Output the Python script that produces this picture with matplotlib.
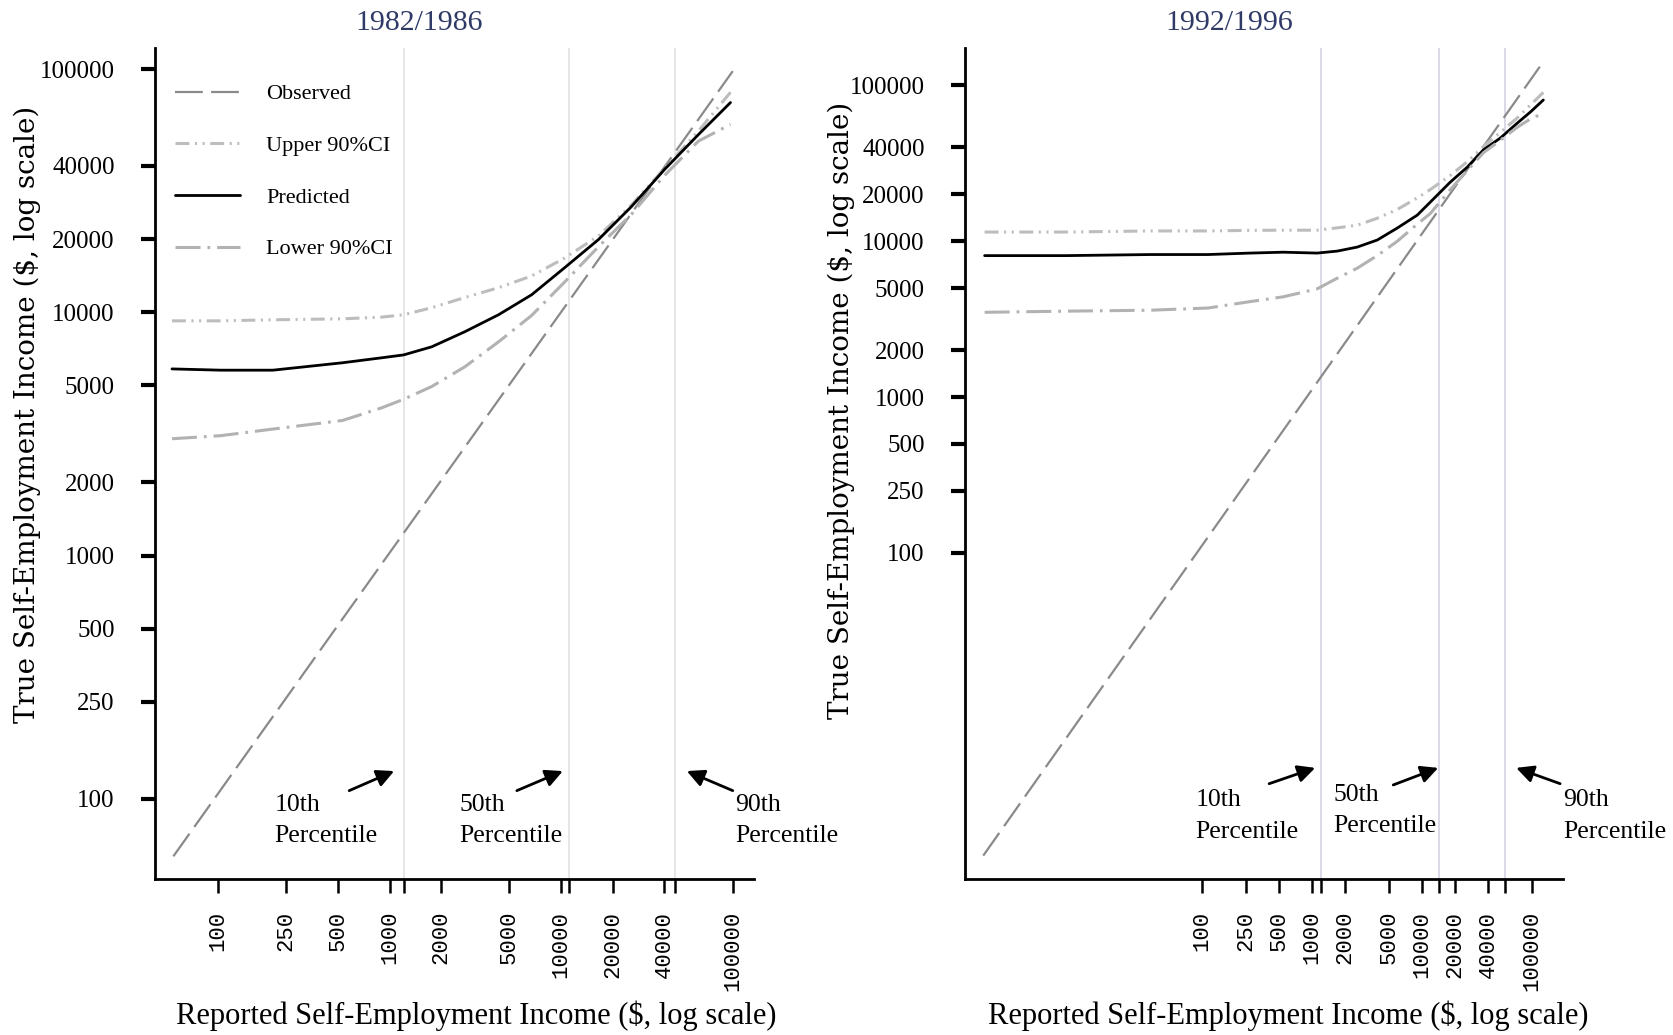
import matplotlib
matplotlib.use("Agg")
import matplotlib.pyplot as plt
from matplotlib.ticker import NullFormatter, NullLocator, FixedLocator

plt.rcParams["lines.scale_dashes"] = False
plt.rcParams["lines.solid_capstyle"] = "round"

# ---------------- data ----------------
panel_titles = ["1982/1986", "1992/1996"]
series_labels = ["Observed", "Upper 90%CI", "Predicted", "Lower 90%CI"]
tick_values = [100, 250, 500, 1000, 2000, 5000, 10000, 20000, 40000, 100000]
tick_labels = ["100", "250", "500", "1000", "2000", "5000", "10000", "20000", "40000", "100000"]
pct_labels = ["10th\nPercentile", "50th\nPercentile", "90th\nPercentile"]

# 1982/1986 panel
obs82_x = [55, 100000]
obs82_y = [58, 98000]
rep82 = [54, 104, 209, 532, 902, 1210, 1760, 2740, 4320, 6730, 10470, 16500, 25700, 40000, 63000, 97000]
pred82 = [5850, 5780, 5780, 6200, 6500, 6680, 7210, 8310, 9770, 11800, 15240, 19900, 27200, 38600, 53700, 72800]
upper82 = [9220, 9220, 9310, 9400, 9550, 9770, 10440, 11490, 12620, 14100, 16700, 20600, 27600, 39000, 55500, 80200]
lower82 = [3020, 3110, 3310, 3590, 4050, 4390, 4950, 5960, 7560, 9700, 13300, 18600, 25300, 36500, 50500, 59200]
pct82 = [1210, 11150, 46000]

# 1992/1996 panel
obs92_x = [1.04, 117000]
obs92_y = [1.14, 132000]
rep92 = [1.07, 5.8, 34, 114, 275, 548, 1117, 1700, 2580, 3920, 5950, 9050, 11890, 18070, 25800, 36000, 51300, 73200, 96200, 126000]
pred92 = [8090, 8090, 8220, 8220, 8400, 8510, 8400, 8650, 9180, 10190, 12160, 14730, 17860, 24020, 30000, 38600, 46000, 57400, 67600, 80700]
upper92 = [11460, 11460, 11650, 11650, 11750, 11780, 11780, 12200, 12680, 14060, 16000, 19000, 21500, 26500, 32500, 40500, 50000, 62000, 75000, 90300]
lower92 = [3500, 3560, 3610, 3730, 4100, 4400, 4950, 5800, 6720, 8100, 10000, 12900, 15100, 21500, 28500, 37000, 44500, 54000, 61000, 66400]
pct92 = [1200, 14300, 56000]

# ---------------- styling ----------------
SERIF = ["Liberation Serif", "DejaVu Serif"]
obs_style = dict(color="#8a8a8a", lw=1.6, dashes=(20, 6))
up_style = dict(color="#bdbdbd", lw=2.2, dashes=(10, 4, 1.5, 4, 1.5, 4))
pred_style = dict(color="black", lw=2.0)
low_style = dict(color="#b2b2b2", lw=2.2, dashes=(18, 5, 2, 5))

fig = plt.figure(figsize=(16.73, 10.35), dpi=100)
W, H = 1673, 1035
ax1 = fig.add_axes([155 / W, 1 - 879 / H, 599 / W, 831 / H])
ax2 = fig.add_axes([965 / W, 1 - 879 / H, 598 / W, 831 / H])

panels = [
    (ax1, obs82_x, obs82_y, rep82, pred82, upper82, lower82, pct82, (43, 133000), (46.8, 122000), "#e4e4e4"),
    (ax2, obs92_x, obs92_y, rep92, pred92, upper92, lower92, pct92, (0.71, 190000), (0.807, 174000), "#d6d6e6"),
]

for ax, ox, oy, rx, pr, up, lo, pc, xl, yl, vcol in panels:
    ax.set_xscale("log")
    ax.set_yscale("log")
    for p in pc:
        ax.axvline(p, color=vcol, lw=1.3, zorder=0)
    ax.plot(ox, oy, label=series_labels[0], **obs_style)
    ax.plot(rx, up, label=series_labels[1], **up_style)
    ax.plot(rx, pr, label=series_labels[2], **pred_style)
    ax.plot(rx, lo, label=series_labels[3], **low_style)
    ax.set_xlim(*xl)
    ax.set_ylim(*yl)
    for s in ["top", "right"]:
        ax.spines[s].set_visible(False)
    for s in ["left", "bottom"]:
        ax.spines[s].set_linewidth(2)
    ax.xaxis.set_major_locator(FixedLocator(tick_values))
    ax.xaxis.set_minor_locator(FixedLocator(pc))
    ax.xaxis.set_minor_formatter(NullFormatter())
    ax.set_xticklabels(tick_labels, rotation=90, family="Liberation Mono", fontsize=16)
    ax.yaxis.set_major_locator(FixedLocator(tick_values))
    ax.yaxis.set_minor_locator(NullLocator())
    ax.set_yticklabels(tick_labels, family=SERIF, fontsize=18)
    ax.tick_params(axis="x", which="both", direction="out", length=10, width=1.8, pad=13)
    ax.tick_params(axis="y", which="both", direction="out", length=10, width=3, pad=19)

# legend (left panel only)
ax1.legend(loc="upper left", bbox_to_anchor=(0.034, 0.957), frameon=False,
           prop={"family": SERIF, "size": 16}, handlelength=2.9,
           handletextpad=1.2, labelspacing=1.4, borderaxespad=0, borderpad=0)

# percentile annotations
arrow = dict(arrowstyle="-|>", lw=2, color="black", mutation_scale=26, shrinkA=0, shrinkB=0)
ann82 = [((214, 105), (582, 108), (1064, 130)),
         ((2550, 105), (5520, 108), (10230, 130)),
         ((103000, 105), (100000, 108), (54000, 130))]
ann92 = [((87.5, 3.04), (409, 3.30), (1070, 4.17)),
         ((1563, 3.30), (5470, 3.24), (14000, 4.17)),
         ((190000, 3.04), (179000, 3.30), (71400, 4.17))]
for ax, anns in [(ax1, ann82), (ax2, ann92)]:
    for lab, (tpos, tail, tip) in zip(pct_labels, anns):
        ax.text(tpos[0], tpos[1], lab, ha="left", va="top", family=SERIF, fontsize=18.5,
                linespacing=1.55, clip_on=False)
        ax.annotate("", xy=tip, xytext=tail, arrowprops=arrow, annotation_clip=False)

# titles and axis labels
fig.text(419 / W, 1 - 23 / H, panel_titles[0], ha="center", va="center",
         family=SERIF, fontsize=21.5, color="#2f3a66")
fig.text(1229 / W, 1 - 23 / H, panel_titles[1], ha="center", va="center",
         family=SERIF, fontsize=21.5, color="#2f3a66")
ylab = "True Self-Employment Income ($, log scale)"
xlab = "Reported Self-Employment Income ($, log scale)"
fig.text(27 / W, 1 - 414 / H, ylab, rotation=90, ha="center", va="center",
         family=["DejaVu Serif"], fontsize=20)
fig.text(841 / W, 1 - 410 / H, ylab, rotation=90, ha="center", va="center",
         family=["DejaVu Serif"], fontsize=20)
fig.text(476 / W, 1 - 1016 / H, xlab, ha="center", va="center", family=SERIF, fontsize=22)
fig.text(1288 / W, 1 - 1016 / H, xlab, ha="center", va="center", family=SERIF, fontsize=22)

fig.savefig("out.png", dpi=100, facecolor="white")
